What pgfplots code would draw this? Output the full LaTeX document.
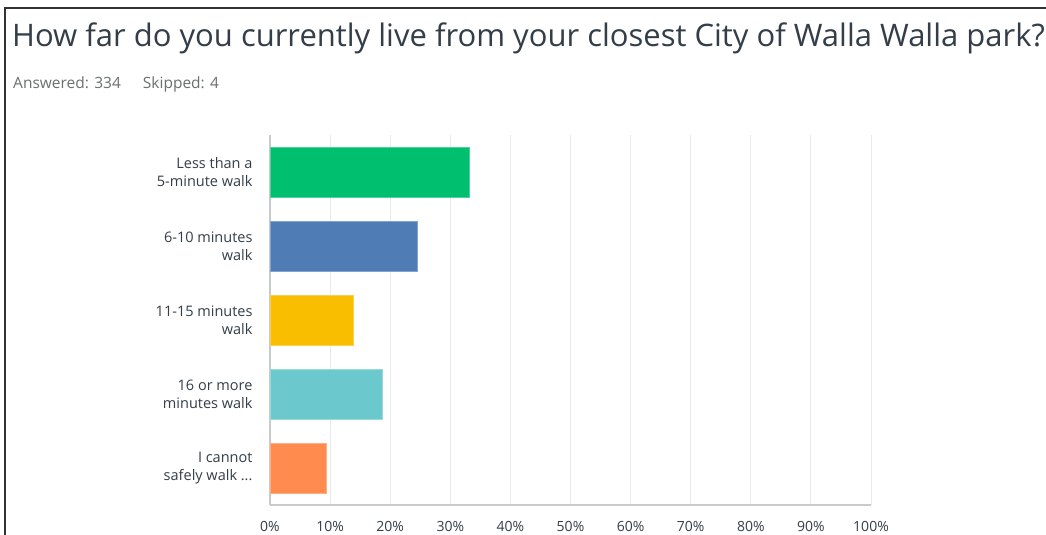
\documentclass[border=0pt]{standalone}
\usepackage{pgfplots}
\pgfplotsset{compat=1.18}
\usepackage{fontspec}
\setmainfont{Open Sans}
\definecolor{smgreen}{HTML}{00BF6F}
\definecolor{smblue}{HTML}{507CB6}
\definecolor{smyellow}{HTML}{F9BE00}
\definecolor{smteal}{HTML}{6BC8CD}
\definecolor{smorange}{HTML}{FF8B4F}
\definecolor{titlegray}{HTML}{333E48}
\definecolor{subgray}{HTML}{6A7070}
\definecolor{gridgray}{HTML}{E9EAEA}
\definecolor{axgray}{HTML}{C8CBCC}
\begin{document}
\begin{tikzpicture}
\useasboundingbox[fill=white] (0pt,0pt) rectangle (1046pt,535pt);
\draw[line width=2pt, black!80] (5pt,0pt) -- (5pt,527pt) -- (1046pt,527pt);
\node[anchor=base west, inner sep=0pt, font=\fontsize{31}{36}\selectfont, text=titlegray]
  at (12pt,488pt) {How far do you currently live from your closest City of Walla Walla park?};
\node[anchor=base west, inner sep=0pt, font=\fontsize{15.5}{18}\selectfont, text=subgray]
  at (13pt,446pt) {Answered: 334\hspace{22pt}Skipped: 4};
\begin{axis}[
    at={(270pt,30pt)}, anchor=south west,
    scale only axis, width=601pt, height=370pt,
    xbar, bar width=0.676, bar shift=0pt,
    xmin=0, xmax=100, ymin=-0.5, ymax=4.5, y dir=reverse,
    xtick={0,10,20,30,40,50,60,70,80,90,100},
    xticklabel={\pgfmathprintnumber{\tick}\%},
    ytick={0,1,2,3,4},
    yticklabels={{Less than a\\5-minute walk},{6-10 minutes\\walk},{11-15 minutes\\walk},{16 or more\\minutes walk},{I cannot\\safely walk {...}}},
    yticklabel style={align=right, font=\fontsize{14.5}{18}\selectfont, text=titlegray, xshift=-14pt},
    xticklabel style={font=\fontsize{14}{16}\selectfont, text=titlegray, yshift=-13pt},
    /pgf/number format/assume math mode=true,
    xmajorgrids, grid style={gridgray, line width=1pt},
    axis x line*=bottom, axis y line*=left,
    axis line style={-, axgray, line width=1.2pt},
    major tick length=0pt,
]
\addplot[fill=smgreen, draw=smgreen!70!white] coordinates {(33.2,0)};
\addplot[fill=smblue, draw=smblue!70!white] coordinates {(24.5,1)};
\addplot[fill=smyellow, draw=smyellow!70!white] coordinates {(13.8,2)};
\addplot[fill=smteal, draw=smteal!70!white] coordinates {(18.6,3)};
\addplot[fill=smorange, draw=smorange!70!white] coordinates {(9.3,4)};
\end{axis}
\end{tikzpicture}
\end{document}
